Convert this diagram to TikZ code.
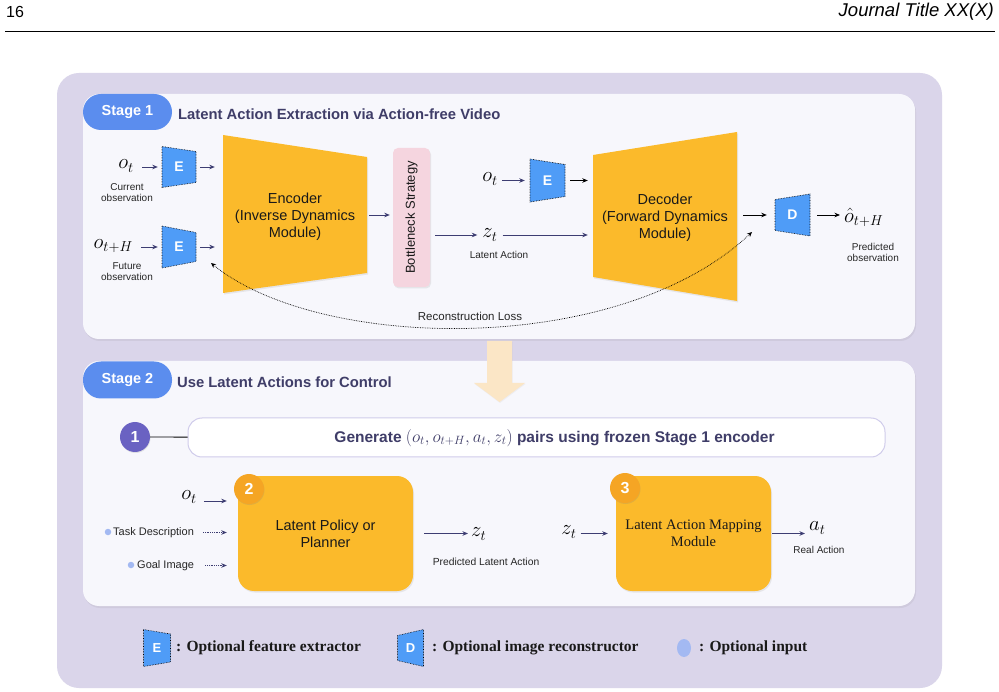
\documentclass[tikz,border=0pt]{standalone}
\usepackage{fontspec}
\setmainfont{Liberation Sans}
\newfontfamily\timesf{Liberation Serif}
\usetikzlibrary{arrows.meta,shadows,calc,shapes.geometric}
\definecolor{bgpurple}{HTML}{DAD5EA}
\definecolor{panelc}{HTML}{F7F7FC}
\definecolor{pillc}{HTML}{5B8DEE}
\definecolor{navy}{HTML}{3F3D68}
\definecolor{efill}{HTML}{4F9CF7}
\definecolor{orangeb}{HTML}{FBBA2B}
\definecolor{pinkb}{HTML}{F5D5DF}
\definecolor{arrowy}{HTML}{FBE6C6}
\definecolor{circp}{HTML}{6A62C2}
\definecolor{circo}{HTML}{F5A524}
\definecolor{dotb}{HTML}{A3B9F2}
\definecolor{arrnavy}{HTML}{3D3D72}
\definecolor{genborder}{HTML}{D0CCEB}
\newcommand{\trapbox}[8]{%
  \filldraw[fill=efill, draw=black, densely dotted, line width=0.6pt]
    ({#2-#4},{#3-#5}) -- ({#2+#4},{#3-#6}) -- ({#2+#4},{#3+#6}) -- ({#2-#4},{#3+#5}) -- cycle;
  \node[etext, font=\bfseries\fontsize{#8}{#8}\selectfont, minimum width={2*#4}, minimum height=20, inner sep=0] (#1) at (#2,#3) {#7};
}
\tikzset{
  arr/.style={-{Stealth[length=5.5pt,width=4.5pt]}, line width=0.8pt, draw=arrnavy},
  arrk/.style={arr, draw=black},
  darr/.style={arr, densely dotted},
  boxtext/.style={font=\fontsize{14.5}{17}\selectfont, align=center, text=black!90},
  smalllbl/.style={font=\fontsize{10}{11}\selectfont, align=center, text=black!85},
  mathl/.style={font=\fontsize{21}{26}\selectfont, inner sep=1pt},
  headtext/.style={font=\bfseries\fontsize{14.8}{17}\selectfont, text=navy, anchor=west, inner sep=0},
  pilltext/.style={font=\bfseries\fontsize{14.5}{17}\selectfont, text=white},
  etext/.style={text=white},
  numcirc/.style={circle, minimum size=30, inner sep=0, text=white, font=\bfseries\fontsize{16}{16}\selectfont, drop shadow={opacity=0.2, shadow xshift=0.5pt, shadow yshift=-1pt}},
  legtext/.style={font=\timesf\bfseries\fontsize{15.5}{17}\selectfont, anchor=west, inner sep=0, text=black!90},
  pshadow/.style={drop shadow={opacity=0.12, shadow xshift=1pt, shadow yshift=-2pt}},
  oshadow/.style={drop shadow={opacity=0.15, shadow xshift=1pt, shadow yshift=-1.5pt}},
}
\begin{document}
\begin{tikzpicture}[x=1pt, y=-1pt]
\useasboundingbox (0,0) rectangle (999,692);
\fill[white] (0,0) rectangle (999,692);
% header
\node[anchor=west, font=\fontsize{16}{20}\selectfont, inner sep=0] (pagenum) at (6,12) {16};
\node[anchor=east, font=\itshape\fontsize{18.5}{20}\selectfont, inner sep=0] (jtitle) at (994,12) {Journal Title XX(X)};
\draw[line width=0.9pt] (5,31) -- (995,31);
% outer background
\fill[bgpurple, rounded corners=22] (57,73) rectangle (942,688);
% ---------------- Stage 1 ----------------
\fill[panelc, rounded corners=16, pshadow] (83,94) rectangle (915,339);
\node[fill=pillc, rounded corners=18, minimum width=89, minimum height=36, pilltext] (pill1) at (127.5,112) {Stage 1};
\node[headtext] (head1) at (178,114) {Latent Action Extraction via Action-free Video};
% inputs
\node[mathl, anchor=east] (o1) at (135,166) {$o_t$};
\node[smalllbl] (lcur) at (127,193) {Current\\observation};
\node[mathl, anchor=east] (o2) at (134,246) {$o_{t+H}$};
\node[smalllbl] (lfut) at (127,272) {Future\\observation};
\trapbox{E1}{179}{167}{17}{20.5}{15.5}{E}{14}
\trapbox{E2}{179}{247}{17}{21}{14.5}{E}{14}
% encoder
\fill[orangeb, oshadow] (223,135) -- (367,157) -- (367,273) -- (223,293) -- cycle;
\node[boxtext, minimum width=144, minimum height=116] (enc) at (295,217) {Encoder\\(Inverse Dynamics\\Module)};
\draw[arr, shorten <=7pt, shorten >=4pt] (o1.east |- E1.west) -- (E1.west);
\draw[arr, shorten <=7pt, shorten >=4pt] (o2.east |- E2.west) -- (E2.west);
\draw[arr, shorten <=4pt, shorten >=8pt] (E1.east) -- (E1.east -| enc.west);
\draw[arr, shorten <=4pt, shorten >=8pt] (E2.east) -- (E2.east -| enc.west);
% bottleneck
\node[fill=pinkb, rounded corners=5, minimum width=37, minimum height=139, inner sep=0, oshadow] (bneck) at (411.5,217.5) {};
\node[rotate=90, font=\fontsize{13}{15}\selectfont, text=black!90] (bntext) at (bneck) {Bottleneck Strategy};
\draw[arr, shorten <=2pt, shorten >=3pt] (enc.east |- 0,215) -- (bneck.west |- 0,215);
% latent action
\node[mathl] (z1) at (490,235) {$z_t$};
\node[smalllbl] (llat) at (499,255) {Latent Action};
\draw[arr, shorten <=5pt, shorten >=4pt] (z1.west -| bneck.east) -- (z1.west);
% o_t and E for decoder
\node[mathl] (o3) at (490,179) {$o_t$};
\trapbox{E3}{547.5}{180.5}{17.5}{21.5}{16}{E}{14}
\draw[arr, shorten <=3pt, shorten >=5pt] (o3.east |- E3.west) -- (E3.west);
% decoder
\fill[orangeb, oshadow] (593,155) -- (737,132) -- (737,301) -- (593,277) -- cycle;
\node[boxtext, minimum width=144, minimum height=116] (dec) at (665,218) {Decoder\\(Forward Dynamics\\Module)};
\draw[arr, shorten <=4pt, shorten >=5pt] (z1.east) -- (z1.east -| dec.west);
\draw[arrk, shorten <=5pt, shorten >=5pt] (E3.east) -- (E3.east -| dec.west);
\trapbox{D}{792.5}{215}{17.5}{15.5}{21}{D}{14}
\draw[arrk, shorten <=6pt, shorten >=8pt] (dec.east |- D.west) -- (D.west);
\node[mathl, anchor=west] (ohat) at (843,217) {$\hat{o}_{t+H}$};
\draw[arrk, shorten <=7pt, shorten >=3pt] (D.east) -- (D.east -| ohat.west);
\node[smalllbl] (lpred) at (873,252) {Predicted\\observation};
% reconstruction loss
\coordinate (recA) at (211,263);
\coordinate (recB) at (752,232);
\draw[densely dotted, line width=0.7pt, {Stealth[length=5pt,width=4.5pt]}-{Stealth[length=5pt,width=4.5pt]}]
  (recA) .. controls (320,352) and (620,357) .. (recB);
\node[font=\fontsize{11.5}{13}\selectfont, text=black!85] (lrec) at (470,316) {Reconstruction Loss};
% ---------------- Stage 2 ----------------
\fill[panelc, rounded corners=16, pshadow] (83,361) rectangle (915,606);
% big arrow
\fill[arrowy, drop shadow={opacity=0.08, shadow xshift=0.5pt, shadow yshift=-1pt}]
  (487,341) -- (512,341) -- (512,383) -- (525,383) -- (499.5,402) -- (474,383) -- (487,383) -- cycle;
\node[fill=pillc, rounded corners=18, minimum width=89, minimum height=37, pilltext] (pill2) at (127.5,380) {Stage 2};
\node[headtext] (head2) at (177,382) {Use Latent Actions for Control};
% step 1
\node[draw=genborder, fill=white, rounded corners=14, line width=1pt, minimum width=697, minimum height=39] (gen) at (536.5,437.5) {};
\node[font=\bfseries\fontsize{15.5}{17}\selectfont, text=navy] (gentext) at (554.5,438) {Generate {\fontsize{17.5}{20}\selectfont$(o_t, o_{t+H}, a_t, z_t)$} pairs using frozen Stage 1 encoder};
\node[numcirc, fill=circp] (c1) at (135,437) {1};
\draw[line width=0.9pt] (c1) -- (gen);
% step 2
\node[fill=orangeb, rounded corners=16, minimum width=175, minimum height=115, oshadow, boxtext] (pol) at (325.5,533.5) {Latent Policy or\\Planner};
\node[numcirc, fill=circo] (c2) at (249,489) {2};
\node[mathl] (o4) at (189,497) {$o_t$};
\draw[arr, shorten <=6pt, shorten >=11pt] (o4.east |- 0,501) -- (pol.west |- 0,501);
\node[circle, fill=dotb, minimum size=6.5, inner sep=0] (dot1) at (108,532) {};
\node[font=\fontsize{11}{13}\selectfont, anchor=west, inner sep=1pt, text=black!85] (task) at (112,532.5) {Task Description};
\node[circle, fill=dotb, minimum size=6.5, inner sep=0] (dot2) at (131,565) {};
\node[font=\fontsize{11}{13}\selectfont, anchor=west, inner sep=1pt, text=black!85] (goal) at (136,565.5) {Goal Image};
\draw[darr, shorten <=8pt, shorten >=11pt] (task.east) -- (task.east -| pol.west);
\draw[darr, shorten <=10pt, shorten >=11pt] (goal.east) -- (goal.east -| pol.west);
\node[mathl, anchor=west] (z2) at (470,534) {$z_t$};
\draw[arr, shorten <=11pt, shorten >=2pt] (pol.east) -- (pol.east -| z2.west);
\node[smalllbl, font=\fontsize{10.3}{12}\selectfont] (lpla) at (486,562) {Predicted Latent Action};
% step 3
\node[mathl] (z3) at (569,532) {$z_t$};
\node[fill=orangeb, rounded corners=16, minimum width=155, minimum height=115, oshadow, font=\timesf\fontsize{14.5}{17}\selectfont, align=center, text=black!90] (map) at (693.5,533.5) {Latent Action Mapping\\Module};
\node[numcirc, fill=circo] (c3) at (625,488) {3};
\draw[arr, shorten <=3pt, shorten >=8pt] (z3.east |- map.west) -- (map.west);
\node[mathl, anchor=west] (at) at (808,528) {$a_t$};
\draw[arr, shorten <=1pt, shorten >=3pt] (map.east) -- (map.east -| at.west);
\node[smalllbl] (lreal) at (819,550) {Real Action};
% ---------------- Legend ----------------
\trapbox{LE}{157}{648}{13.5}{18.5}{14}{E}{13}
\node[legtext] (legE) at (176,648) {: Optional feature extractor};
\trapbox{LD}{410.5}{648}{13}{12.5}{18.5}{D}{13}
\node[legtext] (legD) at (432,648) {: Optional image reconstructor};
\node[ellipse, fill=dotb, minimum width=14, minimum height=18, inner sep=0] (legC) at (684,648) {};
\node[legtext] (legI) at (699,648) {: Optional input};
\end{tikzpicture}
\end{document}
